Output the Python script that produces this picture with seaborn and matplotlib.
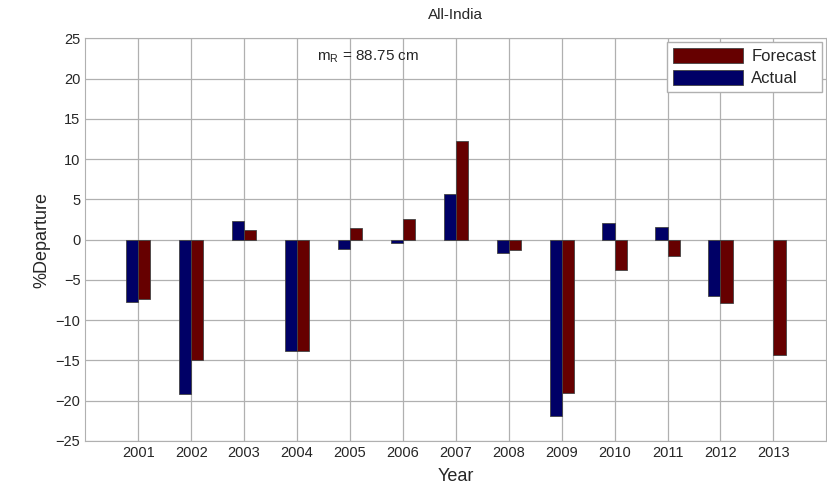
import pandas as pd
import numpy as np
import matplotlib
matplotlib.use("Agg")
import matplotlib.pyplot as plt
import seaborn as sns

# --- data ---
years = [str(y) for y in range(2001, 2014)]
actual = [-7.7, -19.2, 2.3, -13.8, -1.2, -0.4, 5.7, -1.7, -21.9, 2.0, 1.6, -7.0, np.nan]
forecast = [-7.4, -15.0, 1.2, -13.8, 1.4, 2.5, 12.2, -1.3, -19.0, -3.8, -2.0, -7.9, -14.3]

df = pd.DataFrame({
    "Year": years * 2,
    "Departure": actual + forecast,
    "Series": ["Actual"] * len(years) + ["Forecast"] * len(years),
})

sns.set_style("white")
plt.rcParams["font.family"] = ["Liberation Sans", "DejaVu Sans"]

fig = plt.figure(figsize=(8.28, 4.84), dpi=100)
ax = fig.add_axes([0.103, 0.089, 0.895, 0.832])

palette = {"Actual": "#000066", "Forecast": "#660000"}
sns.barplot(data=df, x="Year", y="Departure", hue="Series",
            hue_order=["Actual", "Forecast"], palette=palette,
            width=0.46, saturation=1, edgecolor="#444444", linewidth=0.6,
            ax=ax, zorder=3)

ax.set_xlim(-1, 13)
ax.set_ylim(-25, 25)
ax.set_yticks(range(-25, 26, 5))
ax.grid(True, color="#b0b0b0", linewidth=0.9, zorder=0)
ax.set_axisbelow(True)
for s in ax.spines.values():
    s.set_color("#b0b0b0")
ax.tick_params(labelsize=10.5, length=0)

ax.set_xlabel("Year", fontsize=13, labelpad=6)
ax.set_ylabel("%Departure", fontsize=13)
ax.set_title("All-India", fontsize=11, pad=14)

ax.text(4.35, 22.7, r"m$_\mathregular{R}$ = 88.75 cm", fontsize=11, ha="center", va="center")

handles, labels = ax.get_legend_handles_labels()
order = [labels.index("Forecast"), labels.index("Actual")]
leg = ax.legend([handles[i] for i in order], [labels[i] for i in order],
                loc="upper right", fontsize=12, handlelength=4.2, handleheight=1.0,
                fancybox=False, framealpha=1, edgecolor="#b0b0b0",
                borderaxespad=0.25, borderpad=0.35, labelspacing=0.35,
                handletextpad=0.5)

plt.savefig("out.png", dpi=100)
